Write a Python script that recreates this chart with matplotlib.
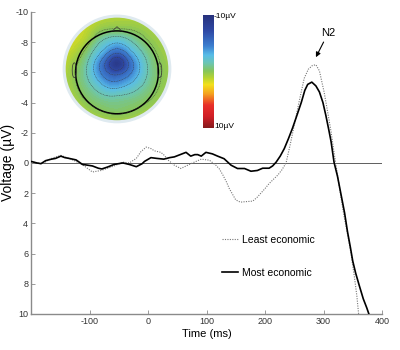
import numpy as np
import matplotlib
matplotlib.use("Agg")
import matplotlib.pyplot as plt
from matplotlib.patches import Circle, Ellipse
from matplotlib.colors import LinearSegmentedColormap

plt.rcParams['font.family'] = ['Liberation Sans', 'DejaVu Sans']
plt.rcParams['axes.unicode_minus'] = False

# ================= Data =================
# ERP waveforms (time in ms, amplitude in uV)
t_most = [-200, -190, -183, -175, -165, -158, -149, -142, -135, -123, -112, -103, -95, -85,
          -79, -69, -58, -43, -32, -20, -10, -6, 5, 15, 27, 37, 45, 55, 65, 73, 80, 85, 91,
          99, 110, 119, 130, 142, 153, 165, 176, 187, 196, 207, 213, 219, 226, 233, 240, 247,
          255, 262, 268, 273, 280, 287, 293, 299, 304, 309, 313, 318, 324, 330, 336, 341, 346,
          350, 355, 361, 368, 374, 378, 385]
v_most = [-0.1, 0.0, 0.05, -0.15, -0.25, -0.3, -0.45, -0.35, -0.3, -0.2, 0.1, 0.15, 0.2, 0.35,
          0.4, 0.27, 0.1, 0.0, 0.1, 0.25, 0.05, -0.1, -0.35, -0.3, -0.25, -0.35, -0.4, -0.55,
          -0.7, -0.45, -0.55, -0.55, -0.45, -0.7, -0.6, -0.45, -0.28, 0.15, 0.37, 0.37, 0.55,
          0.5, 0.35, 0.35, 0.2, -0.05, -0.45, -0.95, -1.6, -2.3, -3.2, -4.0, -4.8, -5.2, -5.35,
          -5.1, -4.7, -4.0, -3.15, -2.2, -1.4, -0.05, 0.9, 2.1, 3.3, 4.55, 5.6, 6.5, 7.3, 8.1,
          9.0, 9.6, 10.05, 10.8]

t_least = [-200, -190, -180, -170, -163, -149, -135, -123, -109, -95, -80, -69, -58, -43, -32,
           -20, -12, -3, 5, 11, 22, 28, 34, 45, 56, 68, 79, 91, 105, 116, 122, 128, 134, 139,
           150, 158, 165, 179, 186, 193, 200, 207, 214, 222, 229, 236, 243, 250, 258, 267, 274,
           281, 287, 293, 301, 307, 313, 318, 324, 330, 335, 341, 347, 353, 357, 360, 364]
v_least = [-0.1, 0.0, 0.05, -0.2, -0.33, -0.5, -0.3, -0.1, 0.2, 0.6, 0.5, 0.35, 0.2, -0.05, 0.0,
           -0.3, -0.75, -1.05, -0.95, -0.8, -0.7, -0.5, -0.2, 0.15, 0.37, 0.15, -0.05, -0.25,
           -0.18, 0.15, 0.4, 0.8, 1.25, 1.7, 2.45, 2.6, 2.57, 2.53, 2.3, 2.0, 1.7, 1.37, 1.1,
           0.8, 0.45, 0.0, -1.2, -2.5, -4.0, -5.6, -6.2, -6.45, -6.5, -6.1, -4.7, -3.4, -2.05,
           -0.7, 0.8, 2.3, 3.5, 4.7, 6.0, 7.6, 8.8, 10.0, 11.0]

x_ticks = [-100, 0, 100, 200, 300, 400]
y_ticks = [-10, -8, -6, -4, -2, 0, 2, 4, 6, 8, 10]

# Topography sample points (disc units, scalp disc radius 1.25) and amplitude in uV
elec_x = [0.0, 0.2, -0.2, 0.0, 0.0, 0.42, -0.42, 0.0, -0.05, -0.32, 0.32, 0.3, -0.3,
          0.68, -0.68, 0.0, 0.0, 0.5, -0.5, 0.5, -0.5,
          1.25, 0.88, 0.0, -0.88, -1.25, -0.88, 0.0, 0.88,
          0.95, 0.67, 0.0, -0.67, -0.95, -0.67, 0.0, 0.67]
elec_y = [0.12, 0.12, 0.12, 0.32, -0.08, 0.1, 0.1, 0.52, -0.32, -0.28, -0.28, 0.4, 0.4,
          0.05, 0.05, 0.78, -0.62, 0.58, 0.58, -0.5, -0.5,
          0.0, 0.88, 1.25, 0.88, 0.0, -0.88, -1.25, -0.88,
          0.0, 0.67, 0.95, 0.67, 0.0, -0.67, -0.95, -0.67]
elec_v = [-8.8, -7.0, -7.2, -6.8, -6.8, -4.2, -4.4, -4.0, -4.3, -3.8, -3.4, -3.6, -3.6,
          -1.8, -1.8, -1.4, -1.6, -1.2, -1.2, -1.4, -1.5,
          0.5, 0.7, 1.0, 1.6, 1.1, 0.7, 0.7, 0.5,
          -0.3, -0.2, 0.0, 0.4, -0.1, -0.4, -0.4, -0.4]

V_MIN, V_MAX = -10, 10
# ===============================================

# softened jet, like the source figure
soft_jet = LinearSegmentedColormap.from_list('soft_jet', [
    (0.00, '#27307a'), (0.15, '#2f4aa6'), (0.28, '#3d7fd0'), (0.36, '#58bde8'),
    (0.43, '#6cc6b4'), (0.50, '#86c55a'), (0.56, '#b7d332'), (0.62, '#f3e11c'),
    (0.70, '#f5a21f'), (0.80, '#e8302a'), (0.90, '#d11f26'), (1.00, '#851a1c')])

fig = plt.figure(figsize=(4, 3.5), dpi=100)
ax = fig.add_axes([0.0775, 0.103, 0.8775, 0.863])

spine_col = '#8a8a8a'
ax.axhline(0, color='#444444', linewidth=0.6, zorder=1)
ax.plot(t_least, v_least, color='#777777', linestyle=(0, (1, 1.2)), linewidth=0.8,
        label='Least economic', zorder=2)
ax.plot(t_most, v_most, color='black', linewidth=1.2, label='Most economic', zorder=3)

ax.set_xlim(-200, 400)
ax.set_ylim(10, -10)
ax.set_xticks(x_ticks)
ax.set_yticks(y_ticks)
ax.tick_params(direction='in', length=3, width=0.6, color=spine_col, labelsize=6.5,
               labelcolor='#333333', pad=2)
for side in ['top', 'right']:
    ax.spines[side].set_visible(False)
for side in ['left', 'bottom']:
    ax.spines[side].set_color(spine_col)
    ax.spines[side].set_linewidth(1.0)

ax.set_xlabel('Time (ms)', fontsize=8, labelpad=2)
ax.set_ylabel('Voltage (µV)', fontsize=10)
ax.yaxis.set_label_coords(-0.046, 0.5)

ax.legend(loc='upper left', bbox_to_anchor=(0.544, 0.262), frameon=False, fontsize=7.5,
          handlelength=1.5, labelspacing=2.2, handletextpad=0.4, borderpad=0,
          borderaxespad=0)

ax.annotate('N2', xy=(287, -7.0), xytext=(308, -8.6), fontsize=8, ha='center', va='center',
            arrowprops=dict(arrowstyle='-|>', color='black', lw=0.8, shrinkA=1, shrinkB=0,
                            mutation_scale=7))

# --- Topography inset ---
tax = fig.add_axes([0.155, 0.646, 0.275, 0.314])
R_OUT = 1.25
ex = np.array(elec_x)
ey = np.array(elec_y)
ev = np.array(elec_v)
c = 0.35
dd = np.hypot(ex[:, None] - ex[None, :], ey[:, None] - ey[None, :])
wts = np.linalg.solve(np.sqrt(dd ** 2 + c ** 2), ev)
g = np.linspace(-R_OUT, R_OUT, 220)
gx, gy = np.meshgrid(g, g)
dg = np.hypot(gx[..., None] - ex, gy[..., None] - ey)
field = (np.sqrt(dg ** 2 + c ** 2) * wts).sum(-1)
field = np.ma.masked_where(gx ** 2 + gy ** 2 > R_OUT ** 2, field)

tax.contourf(gx, gy, field, levels=np.linspace(V_MIN, V_MAX, 101), cmap=soft_jet,
             vmin=V_MIN, vmax=V_MAX, extend='both')
tax.contour(gx, gy, field, levels=np.arange(-7.5, 1.0, 1.5), colors='#3a3a3a',
            linewidths=0.35, linestyles=[(0, (2, 1.5))])
tax.add_patch(Circle((0, 0), R_OUT, fill=False, edgecolor='#dfeaf0', linewidth=2.2))
hy = -0.08
tax.add_patch(Circle((0, hy), 0.98, fill=False, edgecolor='black', linewidth=1.1))
tax.plot([-0.12, 0.0, 0.12], [hy + 0.97, hy + 1.08, hy + 0.97], color='#333333', linewidth=0.5)
tax.add_patch(Ellipse((-1.01, hy + 0.05), 0.1, 0.35, fill=False, edgecolor='#333333',
                      linewidth=0.5))
tax.add_patch(Ellipse((1.01, hy + 0.05), 0.1, 0.35, fill=False, edgecolor='#333333',
                      linewidth=0.5))
tax.set_xlim(-1.3, 1.3)
tax.set_ylim(-1.3, 1.3)
tax.set_aspect('equal')
tax.axis('off')

# --- Colour bar ---
cax = fig.add_axes([0.5075, 0.634, 0.025, 0.323])
grad = np.linspace(V_MIN, V_MAX, 256).reshape(-1, 1)
cax.imshow(grad, aspect='auto', cmap=soft_jet, vmin=V_MIN, vmax=V_MAX,
           extent=[0, 1, V_MAX, V_MIN])
cax.set_xticks([])
cax.set_yticks([])
for s in cax.spines.values():
    s.set_visible(False)
fig.text(0.535, 0.952, '-10µV', fontsize=6, va='center', ha='left')
fig.text(0.535, 0.638, '10µV', fontsize=6, va='center', ha='left')

fig.savefig('out.png', dpi=100)
